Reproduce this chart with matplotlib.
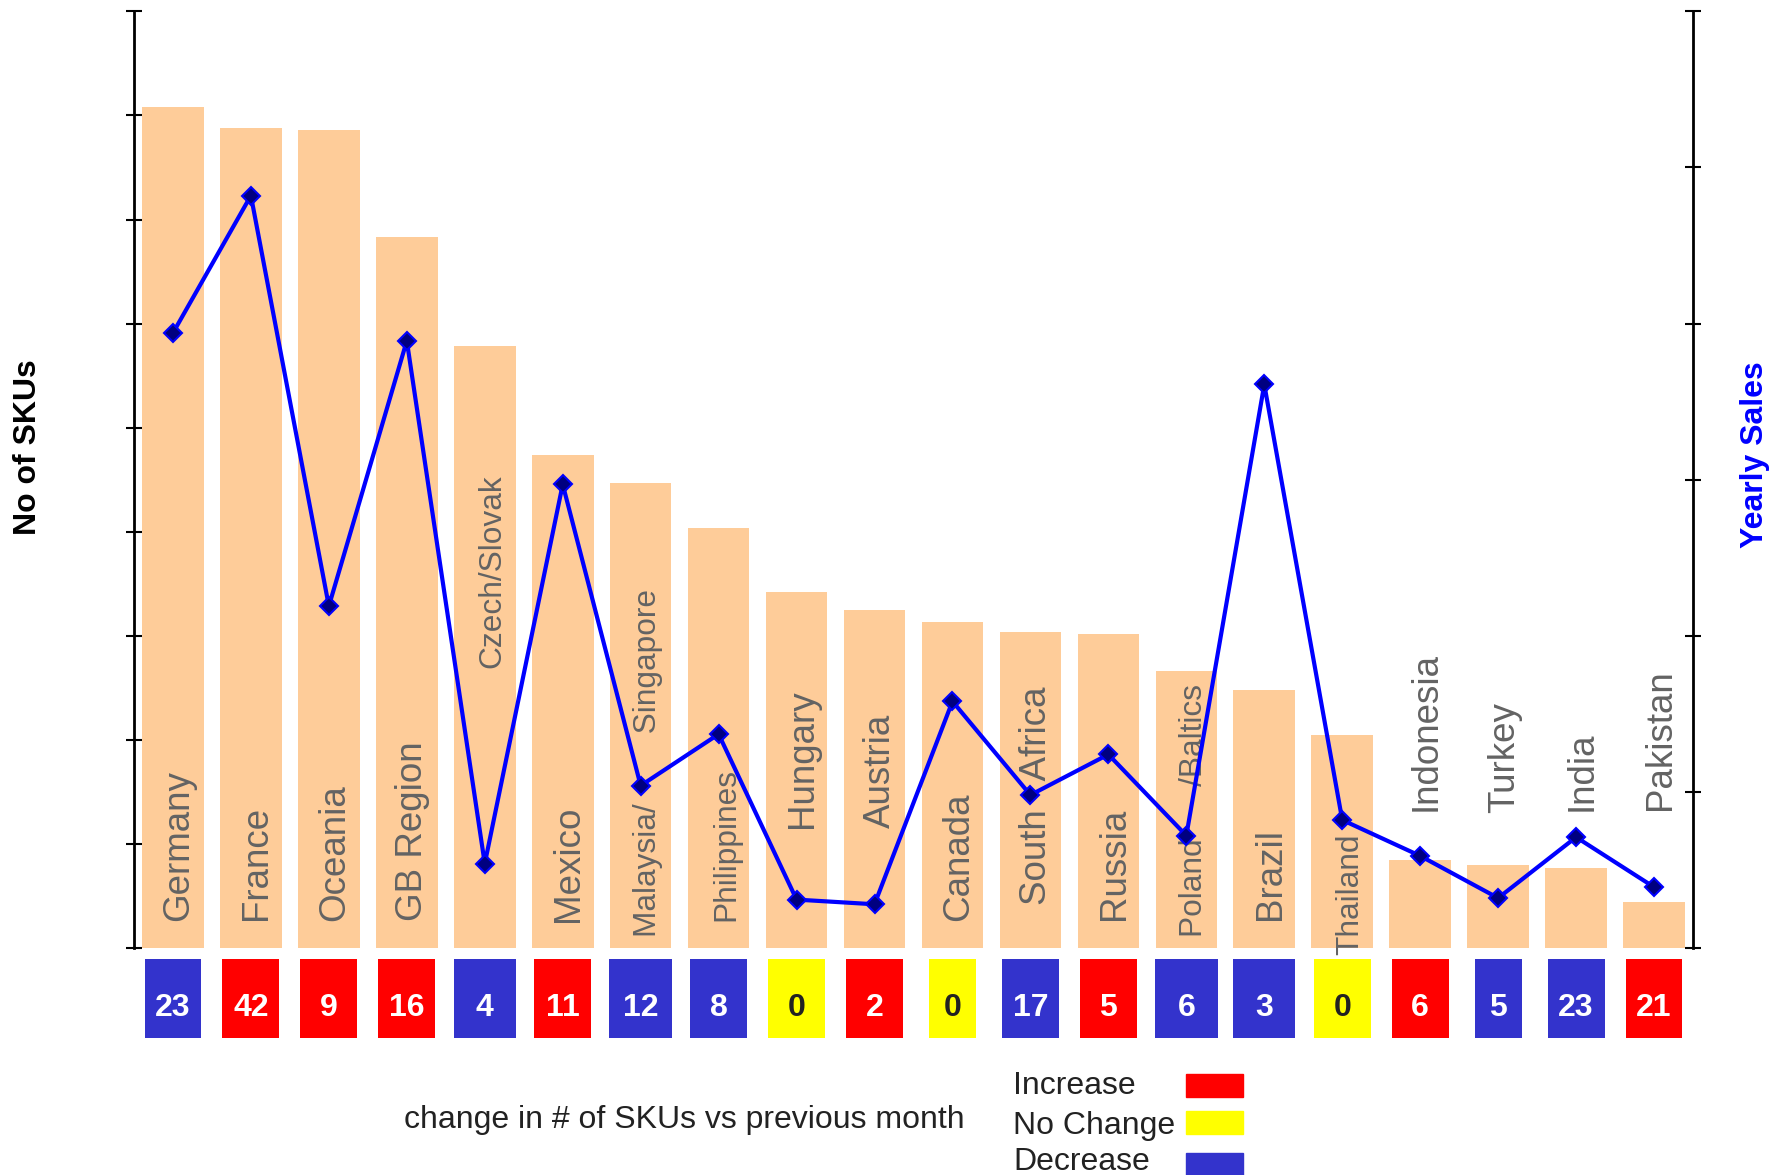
import matplotlib
matplotlib.use('Agg')
import matplotlib.pyplot as plt
from matplotlib.patches import Rectangle

plt.rcParams['font.family'] = ['Liberation Sans', 'DejaVu Sans']

# data
countries = ['Germany', 'France', 'Oceania', 'GB Region', 'Czech/Slovak', 'Mexico',
             'Malaysia/        Singapore', 'Philippines', 'Hungary', 'Austria', 'Canada',
             'South   Africa', 'Russia', 'Poland      /Baltics', 'Brazil', 'Thailand',
             'Indonesia', 'Turkey', 'India', 'Pakistan']
skus = [808, 788, 786, 683, 578, 474, 447, 404, 342, 325,
        313, 304, 302, 266, 248, 205, 85, 80, 77, 44]
sales = [394, 482, 219, 389, 54, 297, 104, 137, 31, 28,
         158, 98, 124, 72, 361, 82, 59, 32, 71, 39]
sku_change = [23, 42, 9, 16, 4, 11, 12, 8, 0, 2,
              0, 17, 5, 6, 3, 0, 6, 5, 23, 21]
change_dir = ['dec', 'inc', 'inc', 'inc', 'dec', 'inc', 'dec', 'dec', 'none', 'inc',
              'none', 'dec', 'inc', 'dec', 'dec', 'none', 'inc', 'dec', 'dec', 'inc']

# layout / style
dir_colors = {'inc': '#FF0000', 'none': '#FFFF00', 'dec': '#3333CC'}
small_labels = {'Czech/Slovak', 'Malaysia/        Singapore', 'Philippines',
                'Poland      /Baltics', 'Thailand'}
label_bottom = [26, 27, 26, 26, 269, 25, 11, 26, 115, 115,
                26, 41, 27, 11, 27, -7, 132, 130, 132, 133]
box_width = [0.73, 0.73, 0.73, 0.73, 0.8, 0.73, 0.8, 0.73, 0.73, 0.73,
             0.6, 0.73, 0.73, 0.8, 0.8, 0.73, 0.73, 0.6, 0.73, 0.73]

fig = plt.figure(figsize=(17.84, 11.75), dpi=100)
ax = fig.add_axes([0.0751, 0.1932, 0.8739, 0.7971])
x = list(range(len(countries)))

ax.bar(x, skus, width=0.79, color='#FECC99', zorder=1)
ax.set_xlim(-0.5, 19.5)
ax.set_ylim(0, 900)
ax.set_yticks(range(0, 901, 100))
ax.set_yticklabels([])
ax.set_xticks([])
for s in ['top', 'bottom', 'right']:
    ax.spines[s].set_visible(False)
ax.spines['left'].set_linewidth(2)
ax.tick_params(axis='y', direction='inout', length=11.5, width=1.5)

for i, name in enumerate(countries):
    fs = 22.8 if name in small_labels else 26.5
    ax.text(i + 0.2, label_bottom[i], name, rotation=90, rotation_mode='anchor',
            ha='left', va='baseline', fontsize=fs, color='#636363', zorder=2,
            clip_on=False)

ax2 = ax.twinx()
ax2.plot(x, sales, color='#0000FF', lw=3, marker='D', ms=9.5,
         mfc='#000080', mec='#0000FF', mew=1.5, zorder=3)
ax2.set_ylim(0, 600)
ax2.set_yticks(range(0, 601, 100))
ax2.set_yticklabels([])
for s in ['top', 'bottom', 'left']:
    ax2.spines[s].set_visible(False)
ax2.spines['right'].set_linewidth(2)
ax2.tick_params(axis='y', direction='inout', length=11.5, width=1.5)

# change boxes under the bars
axb = fig.add_axes([0.0751, 0.1166, 0.8739, 0.0672])
axb.bar(x, [1] * len(x), width=box_width, color=[dir_colors[d] for d in change_dir])
axb.set_xlim(-0.5, 19.5)
axb.set_ylim(0, 1)
axb.axis('off')
for i, v in enumerate(sku_change):
    c = '#222222' if change_dir[i] == 'none' else 'white'
    axb.text(i, 0.28, str(v), ha='center', va='baseline', fontsize=23,
             fontweight='bold', color=c)

fig.text(28 / 1784, 1 - 447 / 1175, 'No of SKUs', rotation=90, ha='center',
         va='center', fontsize=23, fontweight='bold', color='black')
fig.text(1755 / 1784, 1 - 455 / 1175, 'Yearly Sales', rotation=90, ha='center',
         va='center', fontsize=23, fontweight='bold', color='#0000FF')

fig.text(0.3838, 1 - 1120 / 1175, 'change in # of SKUs vs previous month',
         ha='center', va='center', fontsize=23, color='#222222')

legend_items = [('Increase', 'inc', 1094, 1074), ('No Change', 'none', 1134, 1111),
                ('Decrease', 'dec', 1170, 1153)]
for text, key, base, top in legend_items:
    fig.text(1013 / 1784, 1 - base / 1175, text, ha='left', va='baseline',
             fontsize=23, color='#222222')
    fig.patches.append(Rectangle((1186 / 1784, 1 - (top + 23) / 1175), 57 / 1784,
                                 23 / 1175, transform=fig.transFigure,
                                 color=dir_colors[key], figure=fig))

fig.savefig('out.png', dpi=100)
